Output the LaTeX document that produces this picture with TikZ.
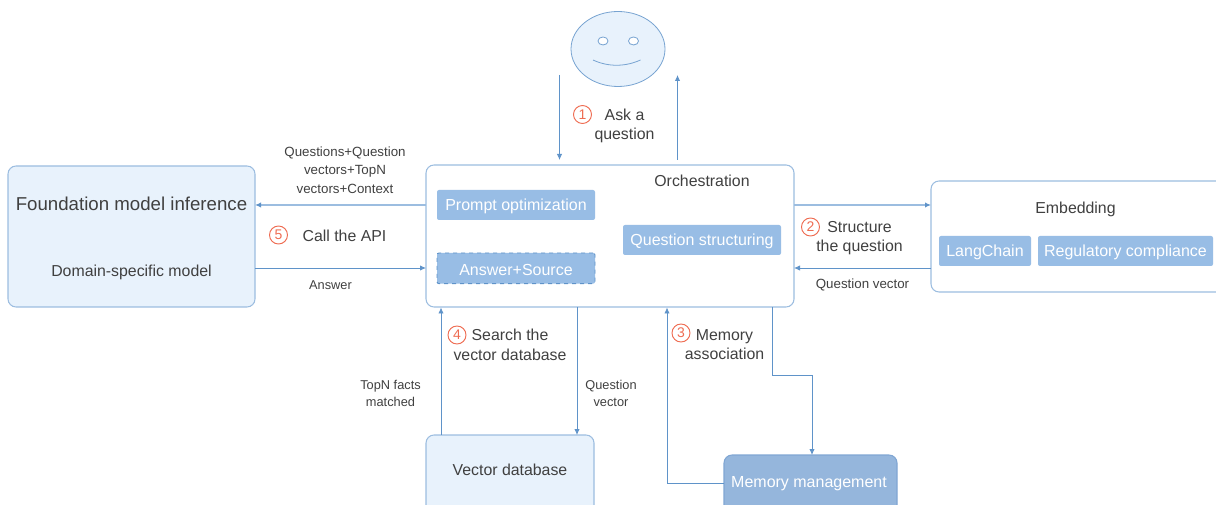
\documentclass[tikz,border=0pt]{standalone}
\usepackage{fontspec}
\setmainfont{Liberation Sans}
\usetikzlibrary{arrows.meta,calc}
\definecolor{lineblue}{HTML}{5F93C9}
\definecolor{edgeblue}{HTML}{9CBDE0}
\definecolor{paleblue}{HTML}{E8F2FC}
\definecolor{chipblue}{HTML}{98BDE5}
\definecolor{memblue}{HTML}{95B6DC}
\definecolor{membord}{HTML}{80A6D3}
\definecolor{txt}{HTML}{404040}
\definecolor{numred}{HTML}{EE6C52}
\tikzset{
  x=0.75pt,y=-0.75pt,
  panel/.style={draw=edgeblue,line width=0.8pt,rounded corners=6pt,fill=white,inner sep=0,outer sep=0},
  palepanel/.style={panel,fill=paleblue},
  membox/.style={draw=membord,line width=0.8pt,rounded corners=6pt,fill=memblue,inner sep=0,outer sep=0},
  chip/.style={fill=chipblue,rounded corners=1.5pt,inner sep=0,outer sep=0},
  dashchip/.style={chip,draw=lineblue,dashed,line width=0.7pt},
  lab/.style={text=txt,font=\fontsize{11.9}{14.8}\selectfont,align=center,inner sep=0},
  biglab/.style={text=txt,font=\fontsize{14}{17}\selectfont,align=center,inner sep=0},
  smalllab/.style={text=txt,font=\fontsize{9.6}{12.4}\selectfont,align=center,inner sep=0},
  wide/.style={font=\fontsize{10}{14}\selectfont},
  chiplab/.style={text=white,font=\fontsize{12}{14}\selectfont,align=center,inner sep=0},
  num/.style={circle,draw=numred,line width=0.7pt,minimum size=13.5pt,inner sep=0,text=numred,font=\fontsize{10.5}{11}\selectfont},
  conn/.style={draw=lineblue,line width=0.6pt,-{Latex[length=4.5pt,width=4pt]}},
  connl/.style={draw=edgeblue,line width=0.9pt,-{Latex[length=4.5pt,width=4pt,color=lineblue]}},
  faceln/.style={draw=lineblue!85!white,line width=0.6pt},
}
\begin{document}
\begin{tikzpicture}
\useasboundingbox (0,0) rectangle (1216,505);
\clip (0,0) rectangle (1216,505);
% panels
\node[panel,minimum width=276pt,minimum height=106.5pt,anchor=north west] (orch) at (426,165) {};
\node[palepanel,minimum width=185.25pt,minimum height=105.75pt,anchor=north west] (found) at (8,166) {};
\node[panel,minimum width=225pt,minimum height=83.25pt,anchor=north west] (emb) at (931,181) {};
\node[palepanel,minimum width=126pt,minimum height=75pt,anchor=north west] (vdb) at (426,435) {};
\node[membox,minimum width=129.75pt,minimum height=60pt,anchor=north west] (mem) at (724,455) {};
% chips
\node[chip,minimum width=118.5pt,minimum height=22.5pt,anchor=north west] (prompt) at (437,190) {};
\node[dashchip,minimum width=118.5pt,minimum height=23pt,anchor=north west] (answer) at (437,253) {};
\node[chip,minimum width=118.5pt,minimum height=22.5pt,anchor=north west] (qstruct) at (623,225) {};
\node[chip,minimum width=69pt,minimum height=22.5pt,anchor=north west] (lang) at (939,236) {};
\node[chip,minimum width=131.25pt,minimum height=22.5pt,anchor=north west] (reg) at (1038,236) {};
\node[chiplab] (promptt) at (516,206) {Prompt optimization};
\node[chiplab] (answert) at (516,269.5) {Answer+Source};
\node[chiplab] (qstructt) at (702,241) {Question structuring};
\node[chiplab] (langt) at (985,252) {LangChain};
\node[chiplab] (regt) at (1125.5,252) {Regulatory compliance};
\node[chiplab] (memt) at (809,483.5) {Memory management};
% face
\draw[faceln,fill=paleblue] (618,49) ellipse [x radius=47,y radius=37.5];
\draw[faceln,fill=white] (603,41) ellipse [x radius=5,y radius=4];
\draw[faceln,fill=white] (633.5,41) ellipse [x radius=5,y radius=4];
\draw[faceln] (593,60) .. controls (608,67) and (625,67) .. (640.5,60);
% free ends
\coordinate (fd) at (559.5,75);
\coordinate (fde) at (559.5,160);
\coordinate (fus) at (677.5,160);
\coordinate (fu) at (677.5,75);
% connectors
\draw[conn] (fd) -- (fde);
\draw[conn] (fus) -- (fu);
\draw[connl] (orch.west |- 0,205) -- (found.east |- 0,205);
\draw[conn] (found.east |- 0,268) -- (orch.west |- 0,268);
\draw[connl] (orch.east |- 0,205) -- (emb.west |- 0,205);
\draw[conn] (emb.west |- 0,268) -- (orch.east |- 0,268);
\draw[conn] (vdb.north west |- 0,435) ++(15,0) -- (441,307.5);
\draw[conn] (577,307) -- (577,435);
\draw[conn] (772,307) -- (772,375) -- (812,375) -- (812,455);
\draw[conn] (mem.west |- 0,483) -- (667,483) -- (667,307.5);
% labels
\node[lab] (orcht) at (702,181) {Orchestration};
\node[lab] (embt) at (1075.5,209) {Embedding};
\node[biglab] (foundt) at (131.5,204) {Foundation model inference};
\node[lab] (domt) at (131.5,272.5) {Domain-specific model};
\node[lab] (vdbt) at (510,470) {Vector database};
\node[num] (n1) at (582.5,114.5) {1};
\node[lab] (l1) at (624.5,126) {Ask a\\question};
\node[num] (n2) at (810.5,227) {2};
\node[lab] (l2) at (859.5,238) {Structure\\the question};
\node[num] (n3) at (681,333) {3};
\node[lab] (l3) at (724.5,344.5) {Memory\\association};
\node[num] (n4) at (457,335) {4};
\node[lab] (l4) at (510,345) {Search the\\vector database};
\node[num] (n5) at (278.5,235) {5};
\node[lab] (l5) at (344.5,236) {Call the API};
\node[smalllab,wide] (s1) at (345,170) {Questions+Question\\vectors+TopN\\vectors+Context};
\node[smalllab] (s2) at (330.5,285) {Answer};
\node[smalllab,font=\fontsize{10}{12.4}\selectfont] (s3) at (862.5,285) {Question vector};
\node[smalllab] (s4) at (390.5,393.5) {TopN facts\\matched};
\node[smalllab] (s5) at (611,393.5) {Question\\vector};
\end{tikzpicture}
\end{document}
